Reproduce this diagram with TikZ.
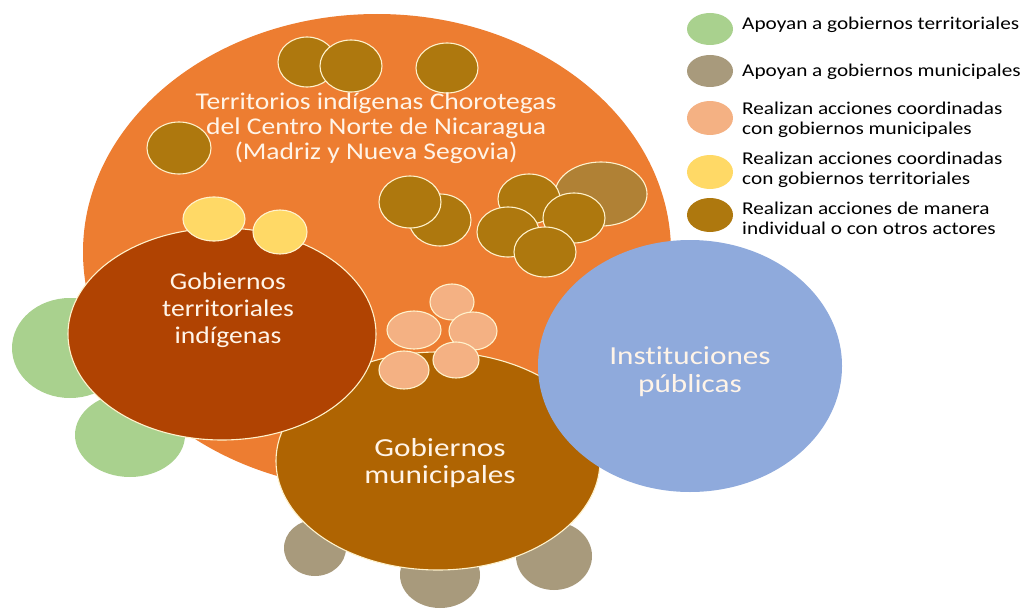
\documentclass[tikz,border=0pt]{standalone}
\usepackage{fontspec}
\setmainfont{Carlito}[Ligatures=NoCommon]
\usetikzlibrary{shapes.geometric}
\definecolor{cOrange}{HTML}{ED7D31}
\definecolor{cRust}{HTML}{B04302}
\definecolor{cMuni}{HTML}{AF6402}
\definecolor{cBlue}{HTML}{8FAADC}
\definecolor{cGreen}{HTML}{A9D18E}
\definecolor{cGray}{HTML}{A89A7C}
\definecolor{cPeach}{HTML}{F4B183}
\definecolor{cYellow}{HTML}{FFD966}
\definecolor{cGold}{HTML}{AE780E}
\definecolor{cLightGold}{HTML}{B08135}
\definecolor{cEdge}{HTML}{FFF2CC}
\definecolor{cText}{HTML}{FFF4E8}
\tikzset{
  blob/.style={ellipse, draw=cEdge, line width=1.1pt, inner sep=0pt},
  plain/.style={ellipse, draw=none, inner sep=0pt},
  bigtext/.style={text=cText, align=center, xscale=1.15, font=\fontsize{24}{26}\selectfont},
  legtext/.style={anchor=west, align=left, text=black, xscale=1.18, font=\fontsize{18}{20}\selectfont, inner sep=0pt},
}
\newcommand{\blobat}[6]{\node[#1, fill=#2, minimum width=#5*2pt, minimum height=#6*2pt] (#3) at (#4) {};}
\begin{document}
\begin{tikzpicture}[x=1pt,y=-1pt]
\useasboundingbox (0,0) rectangle (1023,610);
% big orange territory
\blobat{plain}{cOrange}{terr}{377,252}{294}{238}
% gold circles in territory
\blobat{blob}{cGold}{g1}{307,62}{29}{25}
\blobat{blob}{cGold}{g2}{351,66}{31}{26}
\blobat{blob}{cGold}{g3}{447,68}{31}{25}
\blobat{blob}{cGold}{g4}{179,148}{32}{26}
\blobat{blob}{cGold}{g6}{440,220}{31}{26}
\blobat{blob}{cGold}{g5}{410,202}{31}{26}
\blobat{blob}{cLightGold}{g7}{601,194}{46}{32}
\blobat{blob}{cGold}{g8}{529,199}{31}{25}
\blobat{blob}{cGold}{g9}{574,218}{31}{25}
\blobat{blob}{cGold}{g10}{508,232}{31}{25}
\blobat{blob}{cGold}{g11}{545,252}{31}{25}
\node[bigtext, font=\fontsize{24}{25}\selectfont] (terrtext) at (376,128) {Territorios indígenas Chorotegas\\del Centro Norte de Nicaragua\\(Madriz y Nueva Segovia)};
% green supporters
\blobat{plain}{cGreen}{gr1}{70,348}{58}{50}
\blobat{plain}{cGreen}{gr2}{130,435}{55}{42}
% gray supporters
\blobat{plain}{cGray}{gy1}{315,548}{31}{28}
\blobat{plain}{cGray}{gy2}{440,575}{40}{33}
\blobat{plain}{cGray}{gy3}{554,556}{38}{34}
% municipal
\blobat{blob}{cMuni}{muni}{438,461}{162}{109}
\node[bigtext, xscale=1.2/1.15, font=\fontsize{26}{27}\selectfont] (munitext) at (440,463) {Gobiernos\\municipales};
% territorial governments
\blobat{blob}{cRust}{gti}{222,334}{154}{106}
\node[bigtext, font=\fontsize{24}{27}\selectfont] (gtitext) at (228,310) {Gobiernos\\territoriales\\indígenas};
% yellow
\blobat{blob}{cYellow}{y1}{214,219}{31}{22}
\blobat{blob}{cYellow}{y2}{280,232}{27}{22}
% peach
\blobat{blob}{cPeach}{p1}{452,302}{22}{18}
\blobat{blob}{cPeach}{p2}{414,330}{27}{19}
\blobat{blob}{cPeach}{p3}{473,331}{24}{19}
\blobat{blob}{cPeach}{p5}{456,360}{23}{18}
\blobat{blob}{cPeach}{p4}{404,370}{25}{19}
% public institutions
\blobat{plain}{cBlue}{inst}{690,366}{152}{126}
\node[bigtext, xscale=1.2/1.15, font=\fontsize{26}{28}\selectfont] (insttext) at (690,372) {Instituciones\\públicas};
% legend
\blobat{plain}{cGreen}{l1}{710,29}{23}{16}
\blobat{plain}{cGray}{l2}{710,71}{23}{16}
\blobat{plain}{cPeach}{l3}{710,118}{23}{17}
\blobat{plain}{cYellow}{l4}{710,172}{23}{17}
\blobat{plain}{cGold}{l5}{710,215}{23}{17}
\node[legtext] (t1) at (742,25) {Apoyan a gobiernos territoriales};
\node[legtext] (t2) at (742,72) {Apoyan a gobiernos municipales};
\node[legtext] (t3) at (742,120) {Realizan acciones coordinadas\\con gobiernos municipales};
\node[legtext] (t4) at (742,170) {Realizan acciones coordinadas\\con gobiernos territoriales};
\node[legtext] (t5) at (742,218) {Realizan acciones de manera\\individual o con otros actores};
\end{tikzpicture}
\end{document}
